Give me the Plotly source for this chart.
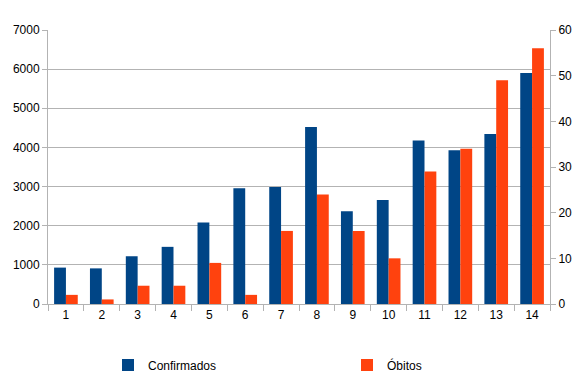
import plotly.graph_objects as go

categories = [str(i) for i in range(1, 15)]
confirmados = [930, 910, 1220, 1460, 2080, 2960, 2990, 4520, 2370, 2660, 4180, 3930, 4340, 5900]
obitos = [2, 1, 4, 4, 9, 2, 16, 24, 16, 10, 29, 34, 49, 56]

BLUE = "#004586"
ORANGE = "#ff420e"
GRID = "#b3b3b3"
FONT = dict(family="Liberation Sans, Arial, sans-serif", size=12, color="#000000")

fig = go.Figure()
fig.add_trace(go.Bar(x=categories, y=confirmados, name="Confirmados", marker_color=BLUE,
                     marker_line_width=0, offsetgroup="1", yaxis="y", legend="legend"))
fig.add_trace(go.Bar(x=categories, y=obitos, name="Óbitos", marker_color=ORANGE,
                     marker_line_width=0, offsetgroup="2", yaxis="y2", legend="legend2"))

leg_common = dict(orientation="h", xref="container", yref="container",
                  xanchor="left", yanchor="middle", font=FONT, itemclick=False,
                  bgcolor="rgba(0,0,0,0)", borderwidth=0)

fig.update_layout(
    width=582, height=381,
    margin=dict(l=48, r=32, t=30, b=77, pad=0, autoexpand=False),
    paper_bgcolor="white", plot_bgcolor="white",
    font=FONT,
    barmode="group", bargap=0.34, bargroupgap=0,
    showlegend=True,
    legend=dict(x=108/582, y=16/381, **leg_common),
    legend2=dict(x=347/582, y=16/381, **leg_common),
    xaxis=dict(type="category", showline=True, linecolor=GRID, linewidth=1,
               ticks="outside", tickson="boundaries", tickcolor=GRID, ticklen=6,
               showgrid=False, tickfont=FONT, range=[-0.5, 13.5], automargin=False),
    yaxis=dict(range=[0, 7000], dtick=1000, showgrid=True, gridcolor=GRID, gridwidth=1,
               showline=True, linecolor=GRID, linewidth=1, ticks="outside", tickcolor=GRID,
               ticklen=5, tickfont=FONT, zeroline=False, tickformat="d", automargin=False),
    yaxis2=dict(range=[0, 60], dtick=10, overlaying="y", side="right", showgrid=False,
                showline=True, linecolor=GRID, linewidth=1, ticks="outside", tickcolor=GRID,
                ticklen=5, tickfont=FONT, zeroline=False, automargin=False),
)

fig.write_html("out.html", config={"displayModeBar": False},
               post_script="document.body.style.margin='0';document.body.style.overflow='hidden';")
